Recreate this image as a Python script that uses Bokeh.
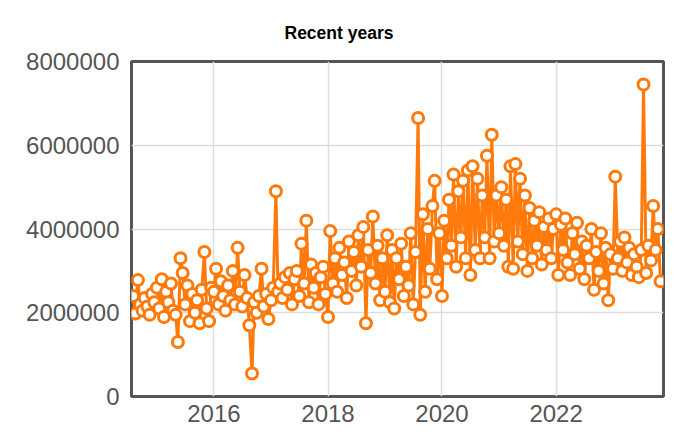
import pandas as pd
from bokeh.plotting import figure
from bokeh.models import ColumnDataSource, FixedTicker, DatetimeTickFormatter, BasicTickFormatter, Range1d
from bokeh.embed import file_html
from bokeh.resources import INLINE

# semi-monthly observations (thousands), Aug 2014 .. Nov 2023
v2014 = [2400, 1980, 2780, 2200, 2050, 2350, 2150, 1950, 2450, 2250]
v2015 = [2600, 2100, 2800, 1900, 2500, 2250, 2700, 2050, 1950, 1300, 3300, 2950,
         2200, 2650, 1800, 2450, 2000, 2300, 1750, 2550, 3450, 2100, 1800, 2600]
v2016 = [2500, 3050, 2200, 2750, 2400, 2050, 2650, 2300, 3000, 2200, 3550, 2500,
         2150, 2900, 2350, 1700, 550, 2250, 2000, 2400, 3050, 2150, 2450, 1850]
v2017 = [2300, 2600, 4900, 2500, 2700, 2350, 2850, 2550, 2950, 2200, 2800, 3000,
         2400, 3650, 2700, 4200, 2250, 3150, 2600, 2950, 2200, 2850, 3100, 2450]
v2018 = [1900, 3950, 2700, 3300, 2500, 3550, 2900, 3200, 2350, 3700, 3000, 3450,
         2650, 3850, 3100, 4050, 1750, 3500, 2950, 4300, 2700, 3600, 2300, 3300]
v2019 = [2500, 3850, 2250, 3500, 2100, 3300, 2800, 3650, 2400, 3100, 2650, 3900,
         2200, 3450, 6650, 1950, 4350, 2500, 4000, 3050, 4550, 5150, 2800, 3900]
v2020 = [2400, 4200, 3300, 4700, 3600, 5300, 3100, 4900, 3800, 5150, 3300, 5400,
         2900, 5500, 3500, 5200, 3300, 4800, 3800, 5750, 3300, 6250, 3700, 4800]
v2021 = [3900, 5000, 3600, 4700, 3100, 5500, 3050, 5550, 3700, 5200, 3400, 4800,
         3000, 4500, 3300, 4200, 3600, 4400, 3150, 4050, 3500, 4250, 3300, 4000]
v2022 = [4350, 2900, 4100, 3500, 4250, 3200, 2900, 3900, 3400, 4150, 3050, 3700,
         2800, 3600, 3300, 4000, 2550, 3450, 3000, 3900, 2700, 3550, 2300, 3400]
v2023 = [3050, 5250, 3300, 3700, 3000, 3800, 3200, 3550, 2900, 3400, 3100, 2850,
         3500, 7450, 2950, 3600, 3250, 4550, 3500, 4000, 2750]

values_k = v2014 + v2015 + v2016 + v2017 + v2018 + v2019 + v2020 + v2021 + v2022 + v2023
values = [v * 1000 for v in values_k]
dates = pd.date_range("2014-08-01", periods=len(values), freq="SMS")

tick_years = ["2016-01-01", "2018-01-01", "2020-01-01", "2022-01-01"]
y_ticks = [0, 2000000, 4000000, 6000000, 8000000]

ORANGE = "#ff7a0a"
src = ColumnDataSource(dict(x=dates, y=values))

p = figure(width=666, height=434, x_axis_type="datetime",
           output_backend="svg", toolbar_location=None,
           x_range=Range1d(pd.Timestamp("2014-07-22"), pd.Timestamp("2023-11-20")),
           y_range=Range1d(0, 8000000),
           min_border_left=131, min_border_right=3, min_border_top=61, min_border_bottom=38)

p.line("x", "y", source=src, line_color=ORANGE, line_width=3)
p.scatter("x", "y", source=src, marker="circle", size=11, fill_color="white",
          line_color=ORANGE, line_width=3)

p.title.text = "Recent years"
p.title.text_font = "Liberation Sans"
p.title.text_font_size = "17.5px"
p.title.text_font_style = "bold"
p.title.text_color = "#000000"
p.title.align = "left"
p.title.offset = 153
p.title.standoff = 34
p.title.vertical_align = "top"

p.outline_line_color = "#555555"
p.outline_line_width = 3
p.background_fill_color = "white"
p.border_fill_color = "white"

p.xaxis.ticker = FixedTicker(ticks=[pd.Timestamp(t).value / 1e6 for t in tick_years])
p.xaxis.formatter = DatetimeTickFormatter(years="%Y", months="%Y", days="%Y")
p.yaxis.ticker = FixedTicker(ticks=y_ticks)
p.yaxis.formatter = BasicTickFormatter(use_scientific=False)

for ax in (p.xaxis, p.yaxis):
    ax.axis_line_color = None
    ax.major_tick_line_color = None
    ax.minor_tick_line_color = None
    ax.major_tick_out = 0
    ax.major_label_text_font = "Liberation Sans"
    ax.major_label_text_font_size = "24px"
    ax.major_label_text_color = "#555555"
p.yaxis.major_label_standoff = 12
p.xaxis.major_label_standoff = 8

p.grid.grid_line_color = "#dddddd"
p.grid.grid_line_width = 1.5

open("out.html", "w").write(file_html(p, INLINE))
